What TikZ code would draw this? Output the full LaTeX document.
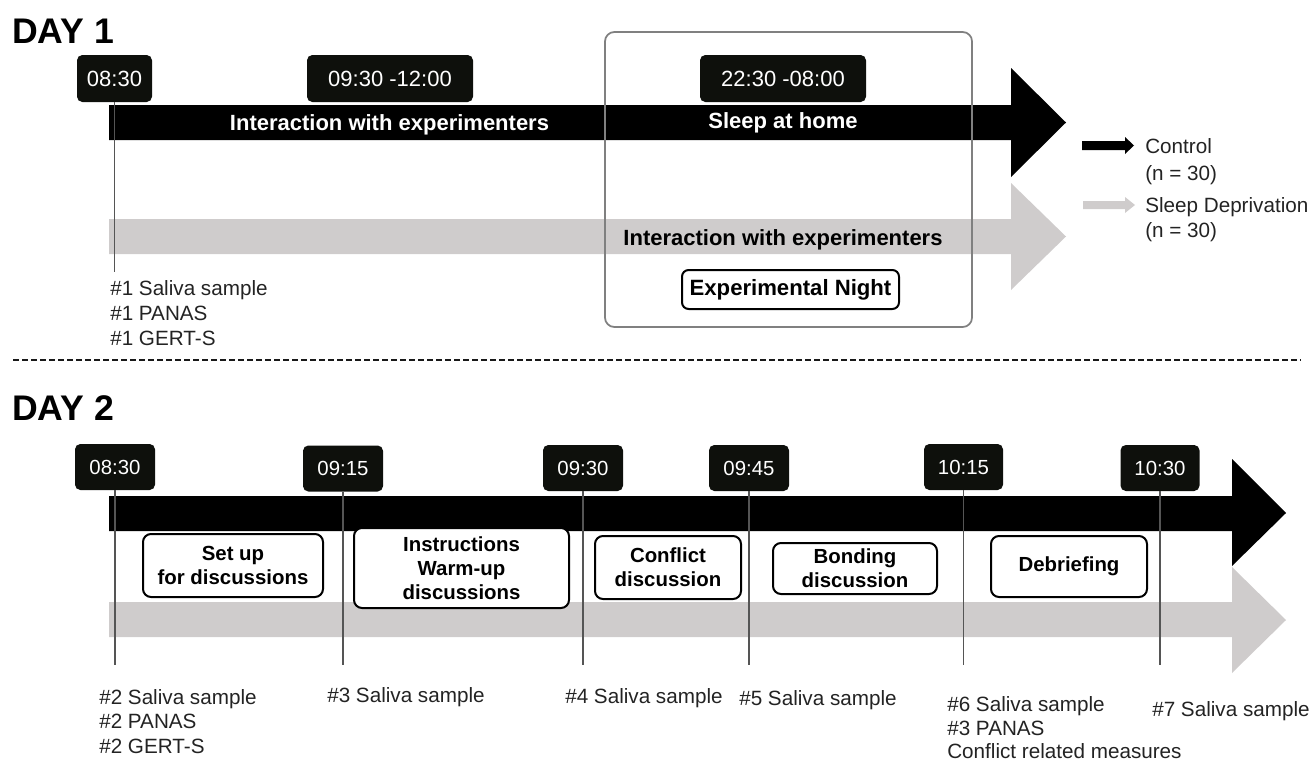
\documentclass[tikz,border=0pt]{standalone}
\usepackage{fontspec}
\setmainfont{Liberation Sans}
\definecolor{bargray}{RGB}{207,204,204}
\definecolor{boxblack}{RGB}{14,16,12}
\definecolor{framegray}{RGB}{128,128,128}
\definecolor{linegray}{RGB}{85,85,85}
\definecolor{labeltext}{RGB}{35,35,35}
\tikzset{
  heading/.style={anchor=base west, inner sep=0pt, font=\bfseries\fontsize{26.7}{30}\selectfont},
  timebox/.style={fill=boxblack, rounded corners=4pt, text=white, inner sep=0pt,
     minimum height=35.25pt, font=\fontsize{16.5}{19}\selectfont},
  timeboxB/.style={timebox, minimum width=60pt, minimum height=34.5pt, font=\fontsize{15.3}{18}\selectfont},
  bartext/.style={anchor=base, inner sep=0pt, font=\bfseries\fontsize{16.5}{19}\selectfont},
  actbox/.style={draw=black, line width=1.5pt, fill=white, rounded corners=6pt, inner sep=0pt,
     align=center, font=\bfseries\fontsize{15.3}{18}\selectfont},
  note/.style={anchor=base west, inner sep=0pt, text=labeltext, font=\fontsize{15.5}{18}\selectfont},
  tick/.style={draw=linegray, line width=0.8pt},
}
\begin{document}
\begin{tikzpicture}[x=0.75pt,y=-0.75pt]
\useasboundingbox (0,0) rectangle (1311,760);

% ---------------- DAY 1 ----------------
\node[heading] (day1) at (12,43) {DAY 1};

% bars
\fill[black] (109,105) -- (1011,105) -- (1011,68) -- (1066,122.5) -- (1011,177) -- (1011,140) -- (109,140) -- cycle;
\fill[bargray] (109,219) -- (1011,219) -- (1011,183) -- (1066,236.5) -- (1011,290) -- (1011,254) -- (109,254) -- cycle;

\node[bartext, text=white] (int1) at (389.5,130) {Interaction with experimenters};
\node[bartext, text=white] (sleep) at (783,128) {Sleep at home};
\node[bartext, text=black] (int2) at (783,245) {Interaction with experimenters};

% experimental night frame
\draw[framegray, line width=1.3pt, rounded corners=7pt] (605,32) rectangle (972,327);
\node[actbox, minimum width=162.75pt, minimum height=29.25pt, rounded corners=5pt,
      font=\bfseries\fontsize{16.6}{19}\selectfont] (night) at (790.5,289.5) {Experimental Night};

% time boxes
\node[timebox, minimum width=56.25pt] (a1) at (114.5,78.5) {08:30};
\node[timebox, minimum width=124.5pt] (a2) at (390,78.5) {09:30 -12:00};
\node[timebox, minimum width=124.5pt] (a3) at (783,78.5) {22:30 -08:00};

\coordinate (a1end) at (114.5,272);
\draw[tick] (a1.south) -- (a1end);

\node[note] (n1a) at (110,295.5) {\#1 Saliva sample};
\node[note] (n1b) at (110,320.5) {\#1 PANAS};
\node[note] (n1c) at (110,345) {\#1 GERT-S};

% legend
\fill[black] (1082,141) -- (1125,141) -- (1125,137) -- (1134,145.5) -- (1125,154) -- (1125,150) -- (1082,150) -- cycle;
\fill[bargray] (1083,201) -- (1125,201) -- (1125,197) -- (1135,205) -- (1125,213) -- (1125,209) -- (1083,209) -- cycle;
\node[note] (lg1) at (1145,153) {Control};
\node[note] (lg2) at (1145,180) {(n = 30)};
\node[note] (lg3) at (1145,212) {Sleep Deprivation};
\node[note] (lg4) at (1145,237) {(n = 30)};

% separator
\draw[black!90, line width=2.1pt, dash pattern=on 4.5pt off 2.25pt] (13,360) -- (1301,360);

% ---------------- DAY 2 ----------------
\node[heading] (day2) at (12,420) {DAY 2};

\fill[black] (109,496) -- (1232,496) -- (1232,459) -- (1286,513) -- (1232,566) -- (1232,531) -- (109,531) -- cycle;
\fill[bargray] (109,602) -- (1232,602) -- (1232,567) -- (1286,620) -- (1232,673) -- (1232,637) -- (109,637) -- cycle;

% time boxes
\node[timeboxB] (b1) at (115,467) {08:30};
\node[timeboxB] (b2) at (343,468.5) {09:15};
\node[timeboxB] (b3) at (583,468) {09:30};
\node[timeboxB] (b4) at (749,468) {09:45};
\node[timeboxB, minimum width=59.25pt] (b5) at (963.5,467) {10:15};
\node[timeboxB, minimum width=59.25pt] (b6) at (1160,468) {10:30};

\foreach \b in {b1,b2,b3,b4,b5,b6}{
  \coordinate (\b end) at (\b.south |- 0,665);
  \draw[tick] (\b.south) -- (\b end);
}

% activity boxes
\node[actbox, minimum width=135pt, minimum height=47.25pt] (setup) at (233,565.5) {Set up\\for discussions};
\node[actbox, minimum width=161.25pt, minimum height=60pt] (instr) at (461.5,568) {Instructions\\Warm-up\\discussions};
\node[actbox, minimum width=109.5pt, minimum height=47.25pt] (confl) at (668,567.5) {Conflict\\discussion};
\node[actbox, minimum width=123pt, minimum height=38.25pt] (bond) at (855,568.5) {Bonding\\discussion};
\node[actbox, minimum width=117pt, minimum height=45.75pt] (debr) at (1069,566.5) {Debriefing};

% notes
\node[note] (n2a) at (99,704) {\#2 Saliva sample};
\node[note] (n2b) at (99,728.5) {\#2 PANAS};
\node[note] (n2c) at (99,753) {\#2 GERT-S};
\node[note] (n3) at (327,702) {\#3 Saliva sample};
\node[note] (n4) at (565,703) {\#4 Saliva sample};
\node[note] (n5) at (739,705) {\#5 Saliva sample};
\node[note] (n6a) at (947,711) {\#6 Saliva sample};
\node[note] (n6b) at (947,735) {\#3 PANAS};
\node[note] (n6c) at (947,758) {Conflict related measures};
\node[note] (n7) at (1152,716) {\#7 Saliva sample};
\end{tikzpicture}
\end{document}
